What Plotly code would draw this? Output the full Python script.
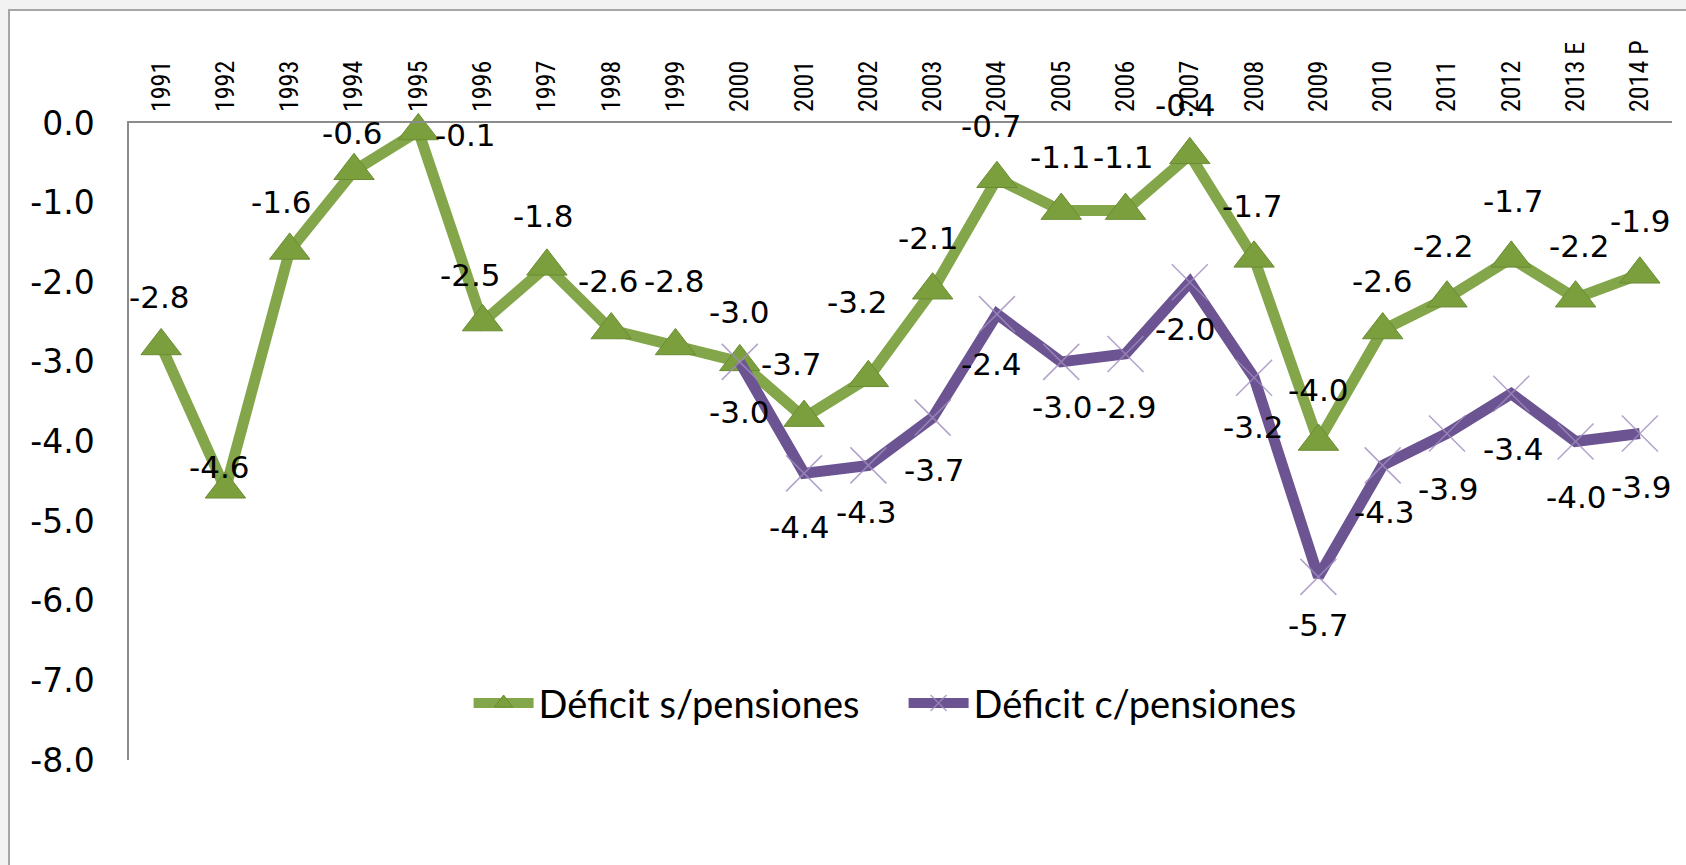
import plotly.graph_objects as go

# ---------------- data ----------------
categories = ["1991", "1992", "1993", "1994", "1995", "1996", "1997", "1998",
              "1999", "2000", "2001", "2002", "2003", "2004", "2005", "2006",
              "2007", "2008", "2009", "2010", "2011", "2012", "2013 E", "2014 P"]

deficit_sin_pensiones = [-2.8, -4.6, -1.6, -0.6, -0.1, -2.5, -1.8, -2.6,
                         -2.8, -3.0, -3.7, -3.2, -2.1, -0.7, -1.1, -1.1,
                         -0.4, -1.7, -4.0, -2.6, -2.2, -1.7, -2.2, -1.9]

con_categories = categories[9:]
deficit_con_pensiones = [-3.0, -4.4, -4.3, -3.7, -2.4, -3.0, -2.9, -2.0,
                         -3.2, -5.7, -4.3, -3.9, -3.4, -4.0, -3.9]

y_ticks = [0, -1, -2, -3, -4, -5, -6, -7, -8]
y_tick_labels = ["0.0", "-1.0", "-2.0", "-3.0", "-4.0", "-5.0", "-6.0", "-7.0", "-8.0"]

series_names = ["Déficit s/pensiones", "Déficit c/pensiones"]

# -------- label placement (pixel offsets, screen coords: +dx right, +dy down) --------
green_label_offsets = [(-2, -49), (-6, -22), (-8, -48), (-2, -38), (47, 4), (-12, -47),
                       (-3, -50), (-3, -49), (-1, -65), (0, -50), (-13, -54), (-11, -76),
                       (-4, -52), (-5, -53), (-1, -54), (-2, -54), (-4, -50), (-2, -52),
                       (0, -52), (0, -49), (-3, -52), (2, -57), (4, -52), (1, -53)]
purple_label_offsets = [(0, 50), (-5, 54), (-2, 47), (2, 52), (-5, 50), (1, 45), (1, 53),
                        (-4, 47), (-1, 49), (0, 48), (2, 47), (2, 55), (2, 55), (1, 55), (2, 53)]

GREEN_LINE = "#84A64A"
GREEN_MARK = "#7A9F3C"
PURPLE_LINE = "#6B5491"
PURPLE_MARK = "rgba(160,140,190,0.8)"

W, H = 1686, 865
ML, MR, MT, MB = 129, 14, 123, 105
PW, PH = W - ML - MR, H - MT - MB

fig = go.Figure()

fig.add_trace(go.Scatter(
    x=categories, y=deficit_sin_pensiones, name=series_names[0],
    mode="lines+markers",
    line=dict(color=GREEN_LINE, width=11),
    marker=dict(symbol="triangle-up", size=35, color=GREEN_MARK,
                line=dict(color="#6A8C33", width=1)),
    cliponaxis=False,
))

fig.add_trace(go.Scatter(
    x=con_categories, y=deficit_con_pensiones, name=series_names[1],
    mode="lines+markers",
    line=dict(color=PURPLE_LINE, width=11),
    marker=dict(symbol="x-thin", size=36, color=PURPLE_MARK,
                line=dict(color=PURPLE_MARK, width=1.5)),
    cliponaxis=False,
))

label_font = dict(family="DejaVu Sans", size=31, color="#000000")
annotations = []
for cat, val, (dx, dy) in zip(categories, deficit_sin_pensiones, green_label_offsets):
    annotations.append(dict(x=categories.index(cat), y=val, xref="x", yref="y",
                            text=f"{val:.1f}", showarrow=False,
                            xshift=dx, yshift=-dy, font=label_font))
for cat, val, (dx, dy) in zip(con_categories, deficit_con_pensiones, purple_label_offsets):
    annotations.append(dict(x=categories.index(cat), y=val, xref="x", yref="y",
                            text=f"{val:.1f}", showarrow=False,
                            xshift=dx, yshift=-dy, font=label_font))

# white chart frame over light-gray page
frame = dict(type="rect", xref="paper", yref="paper", layer="below",
             x0=(9 - ML) / PW, x1=1.3, y0=-0.5, y1=(H - MB - 10) / PH,
             fillcolor="white", line=dict(color="#A6A6A6", width=2))

fig.update_layout(
    width=W, height=H,
    margin=dict(l=ML, r=MR, t=MT, b=MB, pad=0),
    paper_bgcolor="#F2F2F2",
    plot_bgcolor="white",
    shapes=[frame],
    annotations=annotations,
    showlegend=True,
    legend=dict(orientation="h", x=0.502, y=0.089, xanchor="center", yanchor="middle",
                font=dict(family="Lato", size=38, color="#000000"),
                bgcolor="rgba(0,0,0,0)", itemwidth=60, traceorder="normal",
                entrywidth=360, entrywidthmode="pixels"),
    xaxis=dict(type="category", categoryorder="array", categoryarray=categories,
               side="top", tickangle=-90, range=[-0.5, len(categories) - 0.5],
               showline=True, linecolor="#8C8C8C", linewidth=1.5,
               showgrid=False, zeroline=False, ticks="", ticklabelstandoff=4,
               tickfont=dict(family="Liberation Sans Narrow, Roboto Condensed, Roboto, sans-serif",
                             size=26, color="#000000")),
    yaxis=dict(range=[-8, 0], tickvals=y_ticks, ticktext=y_tick_labels,
               showline=True, linecolor="#8C8C8C", linewidth=1.5,
               showgrid=False, zeroline=False, ticks="", ticklabelstandoff=26,
               tickfont=dict(family="DejaVu Sans", size=33, color="#000000")),
)

fig.write_html("out.html", config={"displayModeBar": False},
               post_script="document.body.style.margin='0';document.body.style.overflow='hidden';")
